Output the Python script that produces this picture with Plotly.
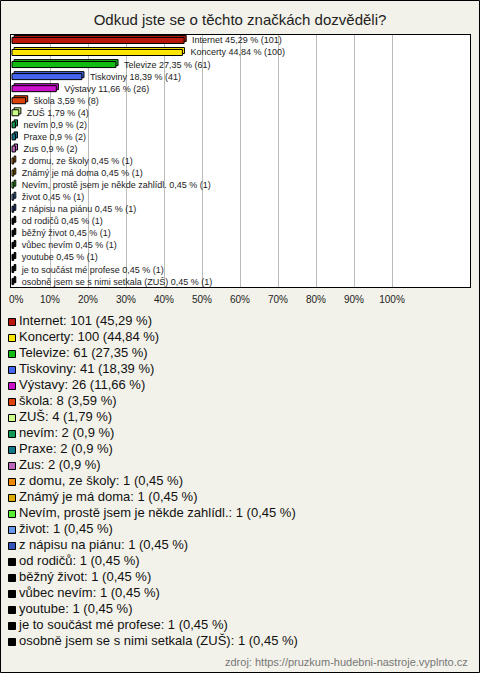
import plotly.graph_objects as go

categories = [
    "Internet", "Koncerty", "Televize", "Tiskoviny", "Výstavy", "škola", "ZUŠ",
    "nevím", "Praxe", "Zus", "z domu, ze školy", "Známý je má doma",
    "Nevím, prostě jsem je někde zahlídl.", "život", "z nápisu na piánu",
    "od rodičů", "běžný život", "vůbec nevím", "youtube",
    "je to součást mé profese", "osobně jsem se s nimi setkala (ZUŠ)",
]
counts = [101, 100, 61, 41, 26, 8, 4, 2, 2, 2, 1, 1, 1, 1, 1, 1, 1, 1, 1, 1, 1]
percents = [45.29, 44.84, 27.35, 18.39, 11.66, 3.59, 1.79, 0.9, 0.9, 0.9,
            0.45, 0.45, 0.45, 0.45, 0.45, 0.45, 0.45, 0.45, 0.45, 0.45, 0.45]
colors = [
    "#BB160C", "#FFE600", "#11BB11", "#4466EE", "#CC11CC", "#E0400C", "#CCFF88",
    "#119955", "#117788", "#BB66BB", "#EE8800", "#DDAA00", "#55EE33", "#6699EE",
    "#3355BB", "#000000", "#000000", "#000000", "#000000", "#000000", "#000000",
]
tick_values = [0, 10, 20, 30, 40, 50, 60, 70, 80, 90, 100]
tick_labels = ["\u00a0\u00a0\u00a00%", "10%", "20%", "30%", "40%", "50%",
               "60%", "70%", "80%", "90%", "100%"]
title_text = "Odkud jste se o těchto značkách dozvěděli?"
source_text = "zdroj: https://pruzkum-hudebni-nastroje.vyplnto.cz"

FONT = "Liberation Sans, Arial, sans-serif"
BG = "#F3F2EA"
W, H = 480, 673
T, B = 35, 23
PH = H - T - B
DEPTH_X = 0.55   # 3D depth of bars, in axis units (about 2 px)
DEPTH_Y = 0.16   # 3D depth of bars, in category rows (about 2 px)


def fmt(p):
    s = f"{p:.2f}".rstrip("0").rstrip(".")
    return s.replace(".", ",")


n = len(categories)
idx = list(range(n))
bar_text = ["\u00a0\u00a0" + f"{c} {fmt(p)} % ({k})" for c, p, k in zip(categories, percents, counts)]
legend_text = [f"{c}: {k} ({fmt(p)} %)" for c, p, k in zip(categories, percents, counts)]

fig = go.Figure()
# back face of the 3D bars
fig.add_trace(go.Bar(
    x=percents, y=[i - DEPTH_Y for i in idx], base=DEPTH_X, orientation="h", width=0.5,
    marker=dict(color=colors, line=dict(color="black", width=1)),
    xaxis="x", yaxis="y", showlegend=False, hoverinfo="skip",
))
# front face
fig.add_trace(go.Bar(
    x=percents, y=idx, orientation="h", width=0.5,
    marker=dict(color=colors, line=dict(color="black", width=1)),
    text=bar_text, textposition="outside", constraintext="none", cliponaxis=False,
    textfont=dict(size=9, color="#222222", family=FONT),
    xaxis="x", yaxis="y", showlegend=False, hoverinfo="skip",
))
fig.add_trace(go.Scatter(
    x=[12] * n, y=idx, mode="markers",
    marker=dict(symbol="square", size=7, color=colors, line=dict(color="black", width=1)),
    xaxis="x2", yaxis="y2", showlegend=False, hoverinfo="skip",
))
fig.add_trace(go.Scatter(
    x=[19] * n, y=idx, mode="text", text=legend_text, textposition="middle right",
    textfont=dict(size=13, color="#111111", family=FONT),
    xaxis="x2", yaxis="y2", showlegend=False, hoverinfo="skip", cliponaxis=False,
))

fig.update_layout(
    width=W, height=H, autosize=False, barmode="overlay",
    margin=dict(l=0, r=0, t=T, b=B, pad=0, autoexpand=False),
    paper_bgcolor=BG, plot_bgcolor=BG,
    font=dict(family=FONT, color="#222222"),
    title=dict(text=title_text, x=0.5, xanchor="center", y=1 - 20 / H, yanchor="middle",
               yref="container", font=dict(size=15, color="#222222", family=FONT)),
    xaxis=dict(domain=[11 / W, 470 / W], range=[-1 / 3.8, (470 - 12) / 3.8],
               tickvals=tick_values, ticktext=tick_labels, ticks="", automargin=False,
               showgrid=True, gridcolor="#BBBBBB", gridwidth=1, zeroline=False,
               showline=True, mirror=True, linecolor="black", linewidth=1,
               ticklabelstandoff=3,
               tickfont=dict(size=10, color="#222222", family=FONT), fixedrange=True),
    yaxis=dict(domain=[(H - B - 287) / PH, 1], range=[20.45, -0.45], automargin=False,
               showticklabels=False, showgrid=False, zeroline=False, ticks="",
               showline=True, mirror=True, linecolor="black", linewidth=1, fixedrange=True),
    xaxis2=dict(domain=[0, 1], range=[0, W], visible=False, anchor="y2", automargin=False,
                fixedrange=True),
    yaxis2=dict(domain=[0, (H - B - 314) / PH], range=[20.5, -0.5], visible=False,
                anchor="x2", automargin=False, fixedrange=True),
    shapes=[
        dict(type="rect", xref="x domain", yref="y domain", x0=0, x1=1, y0=0, y1=1,
             fillcolor="white", line=dict(width=0), layer="below"),
        dict(type="rect", xref="paper", yref="paper",
             x0=0.5 / W, x1=479.5 / W, y0=(H - B - 672.5) / PH, y1=(H - B - 0.5) / PH,
             line=dict(color="black", width=1), fillcolor="rgba(0,0,0,0)"),
    ],
    annotations=[
        dict(text=source_text, xref="paper", yref="paper", x=470 / W, y=(H - B - 662) / PH,
             xanchor="right", yanchor="middle", showarrow=False,
             font=dict(size=11, color="#777777", family=FONT)),
    ],
)

fig.write_html("out.html", config={"displayModeBar": False, "staticPlot": True},
               post_script="document.body.style.margin='0';document.body.style.padding='0';")
